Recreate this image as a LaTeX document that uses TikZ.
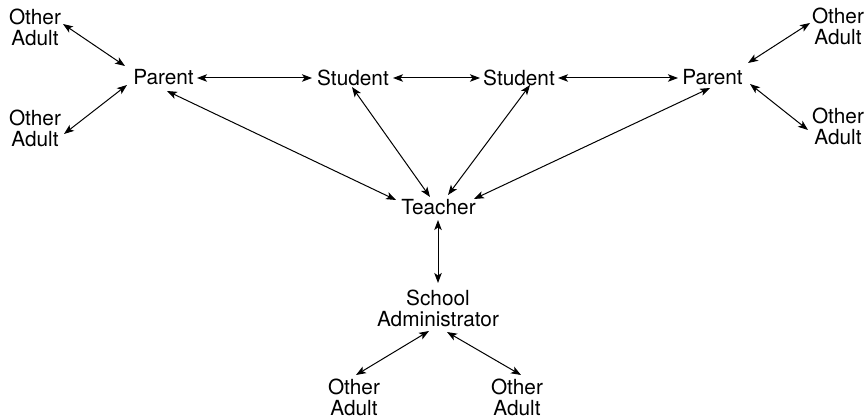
\documentclass[tikz,border=0pt]{standalone}
\usepackage{fontspec}
\setmainfont{TeX Gyre Heros}
\usetikzlibrary{arrows.meta,calc}
\begin{document}
\begin{tikzpicture}[x=1pt,y=-1pt,
  lbl/.style={inner sep=0pt,align=center,font=\fontsize{20.8}{21}\selectfont},
  conn/.style={{Stealth[length=10pt,width=7.5pt,inset=2.5pt]}-{Stealth[length=10pt,width=7.5pt,inset=2.5pt]},line width=1pt}]
\useasboundingbox (0,0) rectangle (867,419);
\node[lbl] (pl) at (163.5,77.5) {Parent};
\node[lbl] (s1) at (353,77.5) {Student};
\node[lbl] (s2) at (519,77.5) {Student};
\node[lbl] (pr) at (712.5,77.5) {Parent};
\node[lbl] (t) at (438.5,207.5) {Teacher};
\node[lbl] (a) at (438,308) {School\\Administrator};
\node[lbl] (otl) at (35,27) {Other\\Adult};
\node[lbl] (obl) at (35,128) {Other\\Adult};
\node[lbl] (otr) at (838,26) {Other\\Adult};
\node[lbl] (obr) at (838,126) {Other\\Adult};
\node[lbl] (oal) at (354,397) {Other\\Adult};
\node[lbl] (oar) at (517,397) {Other\\Adult};
% connectors
\draw[conn] ($(otl)+(28,-3)$) -- ($(pl)+(-38.5,-11.5)$);
\draw[conn] ($(obl)+(29,6)$) -- ($(pl)+(-36.5,7.5)$);
\draw[conn] ($(pl)+(33.5,0.5)$) -- ($(s1)+(-41,0.5)$);
\draw[conn] ($(s1)+(40,0.5)$) -- ($(s2)+(-39,0.5)$);
\draw[conn] ($(s2)+(39,0.5)$) -- ($(pr)+(-34.5,0.5)$);
\draw[conn] ($(pr)+(35.5,-14.5)$) -- ($(otr)+(-28,-3)$);
\draw[conn] ($(pr)+(37.5,6.5)$) -- ($(obr)+(-30,4)$);
\draw[conn] ($(pl)+(3.5,13.5)$) -- ($(t)+(-42.5,-7.5)$);
\draw[conn] ($(s1)+(-1,9.5)$) -- ($(t)+(-8.5,-10.5)$);
\draw[conn] ($(s2)+(11,7.5)$) -- ($(t)+(9.5,-12.5)$);
\draw[conn] ($(pr)+(-2.5,10.5)$) -- ($(t)+(35.5,-8.5)$);
\draw[conn] ($(t)+(-0.5,12.5)$) -- ($(a)+(0,-25)$);
\draw[conn] ($(a)+(-9,23)$) -- ($(oal)+(2,-22)$);
\draw[conn] ($(a)+(9,24)$) -- ($(oar)+(4,-22)$);
\end{tikzpicture}
\end{document}
